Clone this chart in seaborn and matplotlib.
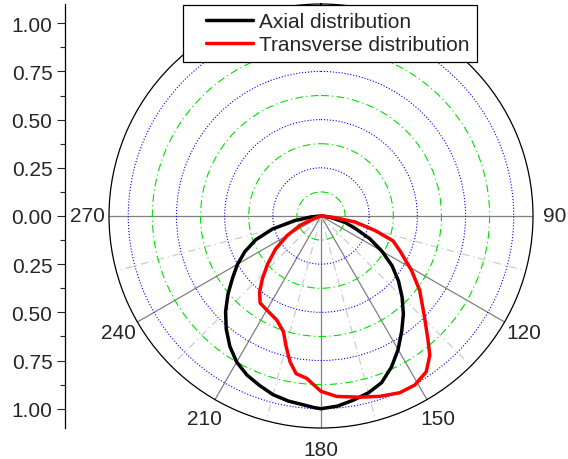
import numpy as np
import pandas as pd
import matplotlib
matplotlib.use('Agg')
import matplotlib.pyplot as plt
from matplotlib.ticker import FuncFormatter
from matplotlib.legend_handler import HandlerLine2D
import seaborn as sns

# angles in degrees (0 at top, clockwise), radii
axial_angle = [90, 95, 100, 105, 110, 115, 120, 125, 130, 135, 140, 145, 150,
               155, 160, 165, 170, 175, 178, 180, 182, 185, 190, 195, 200, 205,
               210, 215, 220, 225, 230, 235, 240, 245, 250, 255, 260, 265, 270]
axial_value = [0, 0.02, 0.06, 0.13, 0.19, 0.28, 0.365, 0.45, 0.525, 0.595, 0.665,
               0.73, 0.80, 0.865, 0.92, 0.95, 0.97, 0.99, 0.995, 1.0, 0.995,
               0.985, 0.975, 0.96, 0.935, 0.91, 0.875, 0.825, 0.765, 0.70, 0.63,
               0.56, 0.50, 0.435, 0.36, 0.26, 0.14, 0.05, 0]

trans_angle = [90, 93, 96, 100, 105, 109, 114, 121, 127, 134, 139, 142, 146,
               151, 156, 162, 168, 175, 180, 183, 185, 189, 192, 195, 198, 203,
               210, 215, 219, 223, 228, 234, 240, 246, 250, 255]
trans_value = [0, 0.01, 0.06, 0.18, 0.29, 0.395, 0.45, 0.548, 0.641, 0.745,
               0.845, 0.917, 0.976, 1.003, 1.004, 0.984, 0.961, 0.94, 0.91,
               0.87, 0.846, 0.828, 0.773, 0.70, 0.631, 0.587, 0.563, 0.551,
               0.506, 0.446, 0.373, 0.291, 0.203, 0.118, 0.04, 0]

series_names = ['Axial distribution', 'Transverse distribution']
series_colors = ['black', 'red']

angle_ticks = [90, 120, 150, 180, 210, 240, 270]
angle_minor = [105, 135, 165, 195, 225, 255]
ring_major = [0.25, 0.5, 0.75, 1.0]
ring_minor = [0.125, 0.375, 0.625, 0.875]
r_max = 1.1

df = pd.concat([
    pd.DataFrame({'theta': np.deg2rad(axial_angle), 'r': axial_value,
                  'series': series_names[0]}),
    pd.DataFrame({'theta': np.deg2rad(trans_angle), 'r': trans_value,
                  'series': series_names[1]}),
], ignore_index=True)


# legend line drawn only in the right part of the handle box (Origin style)
class OffsetLine(HandlerLine2D):
    def get_xdata(self, legend, xdescent, ydescent, width, height, fontsize):
        xd = np.array([width - 34, width]) - xdescent
        return xd, xd


sns.set_style('white')
plt.rcParams['font.family'] = ['Liberation Sans', 'DejaVu Sans']
plt.rcParams['font.size'] = 15

fig = plt.figure(figsize=(5.68, 4.60), dpi=100)

# polar area: centre at (321, 217) px, outer radius 212 px
bottom = (460 - 217 - 212) / 460
height = 424 / 460
ax = fig.add_axes([(321 - 212) / 568, bottom, 424 / 568, height], projection='polar')
ax.set_theta_zero_location('N')
ax.set_theta_direction(-1)

sns.lineplot(data=df, x='theta', y='r', hue='series', hue_order=series_names,
             palette=series_colors, sort=False, estimator=None, lw=2.5,
             legend=False, ax=ax)
ax.set_xlabel('')
ax.set_ylabel('')
ax.set_ylim(0, r_max)

# rings
ax.set_yticks(ring_major)
ax.set_yticks(ring_minor, minor=True)
ax.set_yticklabels([])
ax.yaxis.grid(True, which='major', color='blue', ls=':', lw=0.8)
ax.yaxis.grid(True, which='minor', color='#00e000', ls=(0, (7, 3, 1, 3)), lw=0.8)

# spokes (lower half only)
ax.set_xticks(np.deg2rad(angle_ticks))
ax.set_xticks(np.deg2rad(angle_minor), minor=True)
ax.set_xticklabels([])
ax.xaxis.grid(True, which='major', color='#808080', ls='-', lw=0.9)
ax.xaxis.grid(True, which='minor', color='#cccccc', ls=(0, (6, 3, 1, 3)), lw=0.9)
ax.tick_params(axis='x', which='major', direction='in', length=6, width=0.8, color='black')
ax.tick_params(axis='x', which='minor', direction='in', length=3.5, width=0.8, color='black')
ax.spines['polar'].set_color('black')
ax.spines['polar'].set_linewidth(0.9)

for a in angle_ticks:
    ax.text(np.deg2rad(a), 1.213, str(a), ha='center', va='center', clip_on=False)

# vertical radius scale on the left
axl = fig.add_axes([65 / 568, bottom, 0.01, height])
axl.set_ylim(-r_max, r_max)
axl.set_xticks([])
axl.set_yticks(np.arange(-1, 1.01, 0.25))
axl.set_yticks(np.arange(-1, 1.01, 0.125), minor=True)
axl.yaxis.set_major_formatter(FuncFormatter(lambda v, p: '%.2f' % abs(v)))
axl.tick_params(axis='y', which='major', direction='out', length=6, width=0.8, pad=3, left=True)
axl.tick_params(axis='y', which='minor', direction='out', length=3.5, width=0.8, left=True)
for s in ['top', 'right', 'bottom']:
    axl.spines[s].set_visible(False)
axl.spines['left'].set_color('black')
axl.spines['left'].set_linewidth(0.9)
axl.patch.set_visible(False)

leg = fig.legend(ax.lines[:2], series_names, loc='upper right',
                 bbox_to_anchor=(477 / 568, 1 - 6 / 460), bbox_transform=fig.transFigure,
                 handler_map={l: OffsetLine() for l in ax.lines[:2]},
                 borderaxespad=0, borderpad=0.35, handlelength=3.0, handletextpad=0.3,
                 labelspacing=0.2, fancybox=False, framealpha=1, edgecolor='black')
leg.get_frame().set_linewidth(0.9)

fig.savefig('out.png', dpi=100)
